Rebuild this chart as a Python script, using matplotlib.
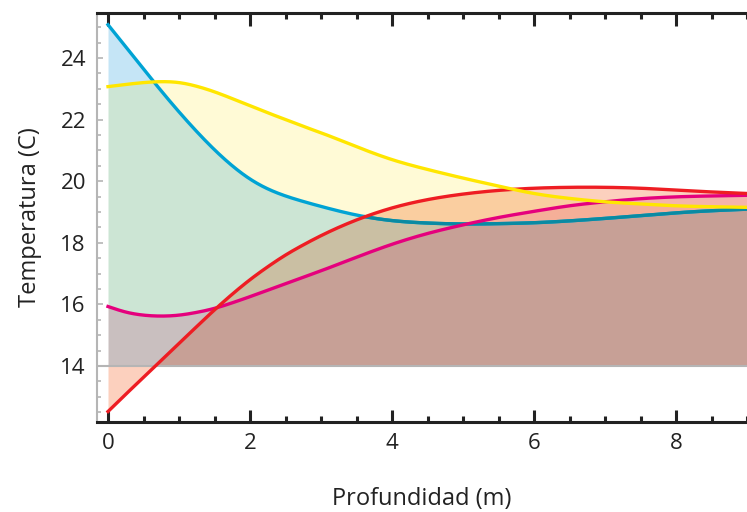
#! /usr/bin/env python3
import itertools

import matplotlib
matplotlib.use("Agg")
import matplotlib.pyplot as plt
import numpy as np
from matplotlib.ticker import FixedLocator, MultipleLocator

plt.rcParams["font.family"] = ["Open Sans", "DejaVu Sans"]

# Depth (m) and temperature (C).
depth = [0.0, 0.25, 0.5, 0.75, 1.0, 1.25, 1.5, 1.75, 2.0, 2.25, 2.5, 2.75, 3.0,
         3.5, 4.0, 4.5, 5.0, 5.5, 6.0, 6.5, 7.0, 7.5, 8.0, 8.5, 9.0]
temp_blue = [25.08, 24.36, 23.64, 22.93, 22.25, 21.61, 21.02, 20.5, 20.07, 19.75,
             19.52, 19.34, 19.18, 18.9, 18.72, 18.64, 18.61, 18.62, 18.65, 18.71,
             18.79, 18.88, 18.97, 19.04, 19.09]
temp_yellow = [23.07, 23.14, 23.2, 23.23, 23.2, 23.08, 22.9, 22.68, 22.45, 22.22,
               22.0, 21.78, 21.57, 21.12, 20.7, 20.38, 20.1, 19.84, 19.6, 19.44,
               19.33, 19.26, 19.2, 19.17, 19.15]
temp_magenta = [15.93, 15.75, 15.65, 15.62, 15.65, 15.74, 15.87, 16.05, 16.25,
                16.46, 16.67, 16.88, 17.09, 17.53, 17.95, 18.3, 18.58, 18.82,
                19.02, 19.2, 19.33, 19.43, 19.49, 19.52, 19.54]
temp_red = [12.52, 13.08, 13.63, 14.18, 14.73, 15.28, 15.82, 16.33, 16.8, 17.22,
            17.6, 17.93, 18.23, 18.74, 19.13, 19.4, 19.58, 19.7, 19.77, 19.8,
            19.8, 19.77, 19.71, 19.65, 19.6]
baseline = 14.0

line_colors = {"B": "#00a3d4", "Y": "#ffe600", "M": "#e5007d", "R": "#ee1d23"}
# colour of each overlap of the shaded areas (which curves lie above)
fill_colors = {
    "B": "#c5e5f6", "Y": "#fffad6", "M": "#f9dde6", "R": "#fcd0be",
    "BY": "#cce5d4", "BYM": "#c9bfbf", "BYR": "#cabfa3", "BYMR": "#c7a096",
    "YR": "#facea0", "YMR": "#f5af98", "MR": "#f5b4aa",
}


def smooth(xs, ys, xq):
    # natural cubic spline through the read points, for drawing
    xs = np.asarray(xs, float)
    ys = np.asarray(ys, float)
    n = len(xs)
    h = np.diff(xs)
    A = np.zeros((n, n))
    rhs = np.zeros(n)
    A[0, 0] = A[-1, -1] = 1.0
    for i in range(1, n - 1):
        A[i, i - 1] = h[i - 1]
        A[i, i] = 2 * (h[i - 1] + h[i])
        A[i, i + 1] = h[i]
        rhs[i] = 3 * ((ys[i + 1] - ys[i]) / h[i] - (ys[i] - ys[i - 1]) / h[i - 1])
    c = np.linalg.solve(A, rhs)
    b = np.diff(ys) / h - h * (2 * c[:-1] + c[1:]) / 3
    d = np.diff(c) / (3 * h)
    idx = np.clip(np.searchsorted(xs, xq) - 1, 0, n - 2)
    t = xq - xs[idx]
    return ys[idx] + b[idx] * t + c[idx] * t ** 2 + d[idx] * t ** 3


fig = plt.figure(figsize=(7.47, 5.12), dpi=100)
ax = fig.add_axes([97 / 747, 1 - 422 / 512, 650 / 747, 409 / 512])

x = np.linspace(depth[0], depth[-1], 1801)
curves = {
    "B": smooth(depth, temp_blue, x),
    "Y": smooth(depth, temp_yellow, x),
    "M": smooth(depth, temp_magenta, x),
    "R": smooth(depth, temp_red, x),
}
names = "BYMR"


def mix(key):
    rgb = np.ones(3)
    for k in key:
        rgb *= np.array(matplotlib.colors.to_rgb(fill_colors[k]))
    return rgb


for n in range(1, 5):
    for subset in itertools.combinations(names, n):
        key = "".join(subset)
        others = [k for k in names if k not in subset]
        upper = np.min([curves[k] for k in subset], axis=0)
        lower = np.full_like(x, baseline)
        for k in others:
            lower = np.maximum(lower, curves[k])
        mask = upper > lower
        if not mask.any():
            continue
        color = fill_colors.get(key, mix(key))
        ax.fill_between(x, lower, upper, where=mask, interpolate=True,
                        color=color, lw=0, zorder=1)

# red curve below the baseline
ax.fill_between(x, curves["R"], baseline, where=curves["R"] < baseline,
                interpolate=True, color=fill_colors["R"], lw=0, zorder=1)

ax.axhline(baseline, color="#b5b5b5", lw=1.5, zorder=2)

lw = 2.4
ax.plot(x, curves["B"], color=line_colors["B"], lw=lw, zorder=3)
under_red = np.where(curves["B"] < curves["R"], curves["B"], np.nan)
ax.plot(x, under_red, color="#0a8aa2", lw=lw, zorder=3)
ax.plot(x, curves["M"], color=line_colors["M"], lw=lw, zorder=4)
ax.plot(x, curves["R"], color=line_colors["R"], lw=lw, zorder=5)
ax.plot(x, curves["Y"], color=line_colors["Y"], lw=lw, zorder=6)

ax.set_xlim(-0.155, 9.0)
ax.set_ylim(12.18, 25.46)

ax.xaxis.set_major_locator(FixedLocator([0, 2, 4, 6, 8]))
ax.xaxis.set_minor_locator(MultipleLocator(0.5))
ax.yaxis.set_major_locator(FixedLocator([14, 16, 18, 20, 22, 24]))
ax.yaxis.set_minor_locator(MultipleLocator(0.5))

ax.tick_params(axis="x", which="both", direction="in", top=True, bottom=True,
               color="#222222", labelcolor="#222222", width=2.2,
               labelsize=16, pad=8)
ax.tick_params(axis="x", which="major", length=9)
ax.tick_params(axis="x", which="minor", length=4.5)
ax.tick_params(axis="y", which="both", direction="in", color="#b5b5b5",
               labelcolor="#222222", width=1.2, labelsize=16, pad=8)
ax.tick_params(axis="y", which="major", length=4)
ax.tick_params(axis="y", which="minor", length=3)

for side in ("top", "bottom"):
    ax.spines[side].set_color("#222222")
    ax.spines[side].set_linewidth(2.2)
ax.spines["left"].set_color("#b5b5b5")
ax.spines["left"].set_linewidth(1.5)
ax.spines["right"].set_visible(False)

ax.set_xlabel("Profundidad (m)", fontsize=17, color="#222222", labelpad=24)
ax.set_ylabel("Temperatura (C)", fontsize=17, color="#222222", labelpad=13)

fig.savefig("out.png", dpi=100)
